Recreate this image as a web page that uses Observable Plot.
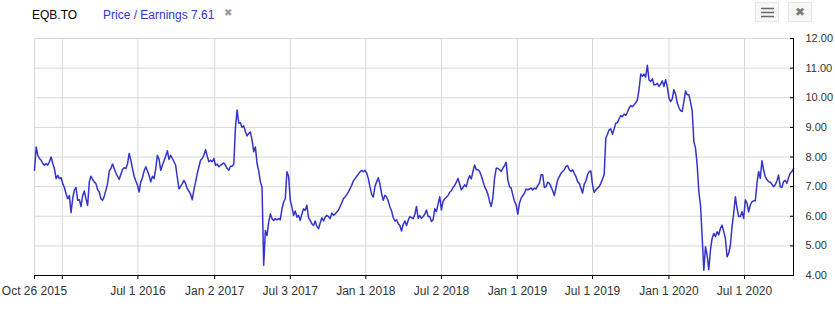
<!DOCTYPE html>
<html>
<head>
<meta charset="utf-8">
<script src="https://cdn.jsdelivr.net/npm/d3@7"></script>
<script src="https://cdn.jsdelivr.net/npm/@observablehq/plot@0.6"></script>
<style>
  html, body { margin: 0; padding: 0; background: #fff; }
  #hdr { position: relative; width: 835px; height: 30px; font-family: "Liberation Sans", Arial, sans-serif; font-size: 12px; }
  #hdr span { position: absolute; white-space: nowrap; }
  .btn { position: absolute; top: 2px; width: 24px; height: 20px; background: #f7f7f7; border: 1px solid #e6e6e6; box-sizing: border-box; }
</style>
</head>
<body>
<div id="hdr">
  <span style="left:32px;top:8px;color:#000;">EQB.TO</span>
  <span style="left:103px;top:8px;color:#3333cc;">Price / Earnings 7.61</span>
  <span style="left:224px;top:7px;color:#999;font-size:10px;">✖</span>
  <div class="btn" style="left:755px;">
    <svg width="22" height="18" style="position:absolute;left:0;top:0">
      <line x1="5" x2="18" y1="5.5" y2="5.5" stroke="#666" stroke-width="1.5"/>
      <line x1="5" x2="18" y1="9.5" y2="9.5" stroke="#666" stroke-width="1.5"/>
      <line x1="5" x2="18" y1="13.5" y2="13.5" stroke="#666" stroke-width="1.5"/>
    </svg>
  </div>
  <div class="btn" style="left:788px;">
    <span style="left:6px;top:2px;color:#777;font-size:12px;">✖</span>
  </div>
</div>
<div id="chart"></div>
<script>
const startDate = "2015-10-26";
const stepDays = 4;
const peValues = [
  7.55, 8.34, 8.06, 7.95, 7.89, 7.78, 7.72, 7.78, 7.72, 7.84,
  8.0, 7.78, 7.61, 7.27, 7.38, 7.27, 7.3, 7.1, 6.97, 6.76,
  6.59, 6.7, 6.12, 6.6, 6.88, 6.97, 6.54, 6.56, 6.33, 6.7,
  6.85, 6.59, 6.37, 7.16, 7.35, 7.24, 7.16, 7.1, 6.9, 6.82,
  6.59, 6.54, 6.67, 6.88, 7.1, 7.53, 7.61, 7.76, 7.61, 7.46,
  7.35, 7.24, 7.42, 7.58, 7.64, 7.61, 7.76, 8.12, 7.89, 7.61,
  7.35, 7.19, 7.05, 6.82, 7.16, 7.3, 7.53, 7.67, 7.53, 7.38,
  7.16, 7.35, 7.27, 7.61, 8.06, 7.92, 7.55, 7.72, 7.87, 8.03,
  8.21, 7.92, 8.06, 7.95, 7.84, 7.72, 7.3, 6.93, 7.01, 7.1,
  7.21, 7.1, 6.93, 6.85, 6.74, 6.56, 6.9, 7.16, 7.44, 7.67,
  7.89, 7.95, 8.06, 8.25, 8.03, 7.84, 7.89, 7.84, 7.95, 7.72,
  7.76, 7.67, 7.72, 7.76, 7.8,
  7.72, 7.61, 7.55, 7.69, 7.69, 7.76, 9.0, 9.59, 9.14, 9.16,
  9.0, 9.05, 8.85, 8.71, 8.8, 8.84, 8.57, 8.18, 8.34, 7.78,
  7.53, 7.16, 6.97, 4.35, 5.52, 5.35, 5.8, 6.08, 5.92, 5.86,
  5.92, 5.88, 5.92, 5.88, 6.25, 6.48, 6.59, 7.5, 7.35, 6.54,
  6.31, 6.03, 6.18, 5.97, 6.03, 5.86, 6.08, 6.25, 6.2, 6.37,
  5.95, 5.86, 5.75, 5.69, 5.84, 5.66, 5.58, 5.77, 5.95, 5.84,
  5.97, 6.03, 5.99, 5.92, 6.11, 6.03, 6.08, 6.14, 6.2, 6.33,
  6.45, 6.59, 6.65, 6.73, 6.82, 6.93, 7.05, 7.19, 7.27, 7.35,
  7.42, 7.5, 7.55, 7.5, 7.55, 7.46, 7.27, 6.99, 6.74, 6.65,
  7.01, 7.16, 7.3, 7.08, 6.76, 6.54, 6.71, 6.65, 6.51, 6.31,
  6.18, 5.95, 5.84, 5.88, 5.75, 5.69, 5.5, 5.72, 5.84, 5.69,
  5.86, 5.99, 5.95, 5.92, 6.06, 6.33,
  5.93, 6.02, 5.93, 5.99, 6.07, 6.21, 5.99, 5.99, 5.82, 5.88,
  6.25, 6.16, 6.41, 6.66, 6.21, 6.5, 6.59, 6.64, 6.7, 6.81,
  6.86, 6.97, 7.04, 7.15, 7.28, 7.08, 6.89, 6.97, 7.06, 7.0,
  7.23, 7.37, 7.26, 7.51, 7.73, 7.57, 7.57, 7.51, 7.37, 7.19,
  7.0, 6.89, 6.74, 6.5, 6.33, 6.63, 7.28, 7.62, 7.62, 7.57,
  7.51, 7.62, 7.71, 7.82, 7.23, 7.0, 6.95, 6.72, 6.5, 6.38,
  6.07, 6.44, 6.61, 6.7, 6.78, 6.92, 6.89, 6.92, 6.95, 6.89,
  6.95, 6.92, 7.04, 7.11, 7.4, 7.4, 6.97, 7.0, 7.15, 7.11,
  7.0, 6.86, 6.7, 6.97, 7.23, 7.34, 7.45, 7.51, 7.57, 7.68,
  7.71, 7.57, 7.51, 7.57, 7.45, 7.34, 7.17, 7.11, 6.95, 6.78,
  7.08, 7.19, 7.4, 7.51, 7.53, 7.06, 6.81, 6.89, 6.95, 7.0,
  7.11, 7.26, 7.4, 8.64, 8.77,
  8.92, 8.95, 8.77, 8.95, 9.14, 9.16, 9.29, 9.4, 9.36, 9.45,
  9.4, 9.51, 9.65, 9.73, 9.7, 9.76, 9.83, 9.93, 10.27, 10.8,
  10.72, 10.8, 10.7, 11.1, 10.6, 10.55, 10.64, 10.44, 10.44, 10.49,
  10.38, 10.46, 10.57, 10.38, 10.61, 10.38, 9.99, 9.87, 9.96, 10.27,
  10.12, 9.82, 9.67, 9.56, 9.54, 9.87, 10.23, 10.1, 10.1, 9.85,
  9.56, 8.52, 8.3, 7.73, 6.83, 6.38, 5.31, 4.18, 4.97, 4.69,
  4.2, 4.86, 5.25, 5.42, 5.31, 5.48, 5.37, 5.59, 5.7, 5.48,
  5.25, 4.63, 4.75, 5.03, 5.65, 6.1, 6.66, 6.27, 5.99, 5.99,
  6.15, 5.93, 6.55, 6.44, 6.15, 6.38, 6.49, 6.52, 6.52, 7.11,
  7.51, 7.28, 7.87, 7.56, 7.34, 7.23, 7.17, 7.15, 7.08, 7.0,
  7.06, 7.19, 7.39, 7.0, 6.97, 7.17, 7.21, 7.11, 7.3, 7.45,
  7.51, 7.61
];

const xTickDates = ["2015-10-26", "2016-01-01", "2016-07-01", "2017-01-02", "2017-07-03",
  "2018-01-01", "2018-07-02", "2019-01-01", "2019-07-01", "2020-01-01", "2020-07-01"];
const xTickLabels = ["Oct 26 2015", "", "Jul 1 2016", "Jan 2 2017", "Jul 3 2017",
  "Jan 1 2018", "Jul 2 2018", "Jan 1 2019", "Jul 1 2019", "Jan 1 2020", "Jul 1 2020"];
const yTicks = [4, 5, 6, 7, 8, 9, 10, 11, 12];

const start = new Date(startDate + "T00:00:00Z");
const data = peValues.map((v, i) => ({date: d3.utcDay.offset(start, i * stepDays), pe: v}));
const end = data[data.length - 1].date;
const xTicks = xTickDates.map(s => new Date(s + "T00:00:00Z"));
const labelOf = new Map(xTicks.map((d, i) => [+d, xTickLabels[i]]));

const chart = Plot.plot({
  width: 835,
  height: 280,
  marginTop: 8,
  marginBottom: 35,
  marginLeft: 34,
  marginRight: 42,
  style: {fontFamily: "'Liberation Sans', Arial, sans-serif", fontSize: "12px", color: "#333", background: "#fff"},
  x: {type: "utc", domain: [start, end], label: null},
  y: {domain: [4, 12], label: null},
  marks: [
    Plot.ruleX(xTicks, {stroke: "#d8d8d8", strokeWidth: 1}),
    Plot.ruleY(yTicks, {stroke: "#d8d8d8", strokeWidth: 1}),
    Plot.line(data, {x: "date", y: "pe", stroke: "#3333cc", strokeWidth: 1.5}),
    Plot.ruleY([4], {stroke: "#000", strokeWidth: 1}),
    Plot.ruleX([end], {stroke: "#000", strokeWidth: 1}),
    Plot.axisX({ticks: xTicks, tickSize: 4, tickPadding: 7, stroke: "#000", fill: "#333", fontSize: 12,
      tickFormat: d => labelOf.get(+d)}),
    Plot.axisY({anchor: "right", ticks: yTicks, tickSize: 0, tickPadding: 12, fill: "#333", fontSize: 11,
      tickFormat: d => d.toFixed(2)}),
    Plot.axisY({anchor: "right", ticks: yTicks, tickSize: 4, dx: -4, stroke: "#000", tickFormat: () => ""})
  ]
});
document.getElementById("chart").appendChild(chart);
</script>
</body>
</html>
